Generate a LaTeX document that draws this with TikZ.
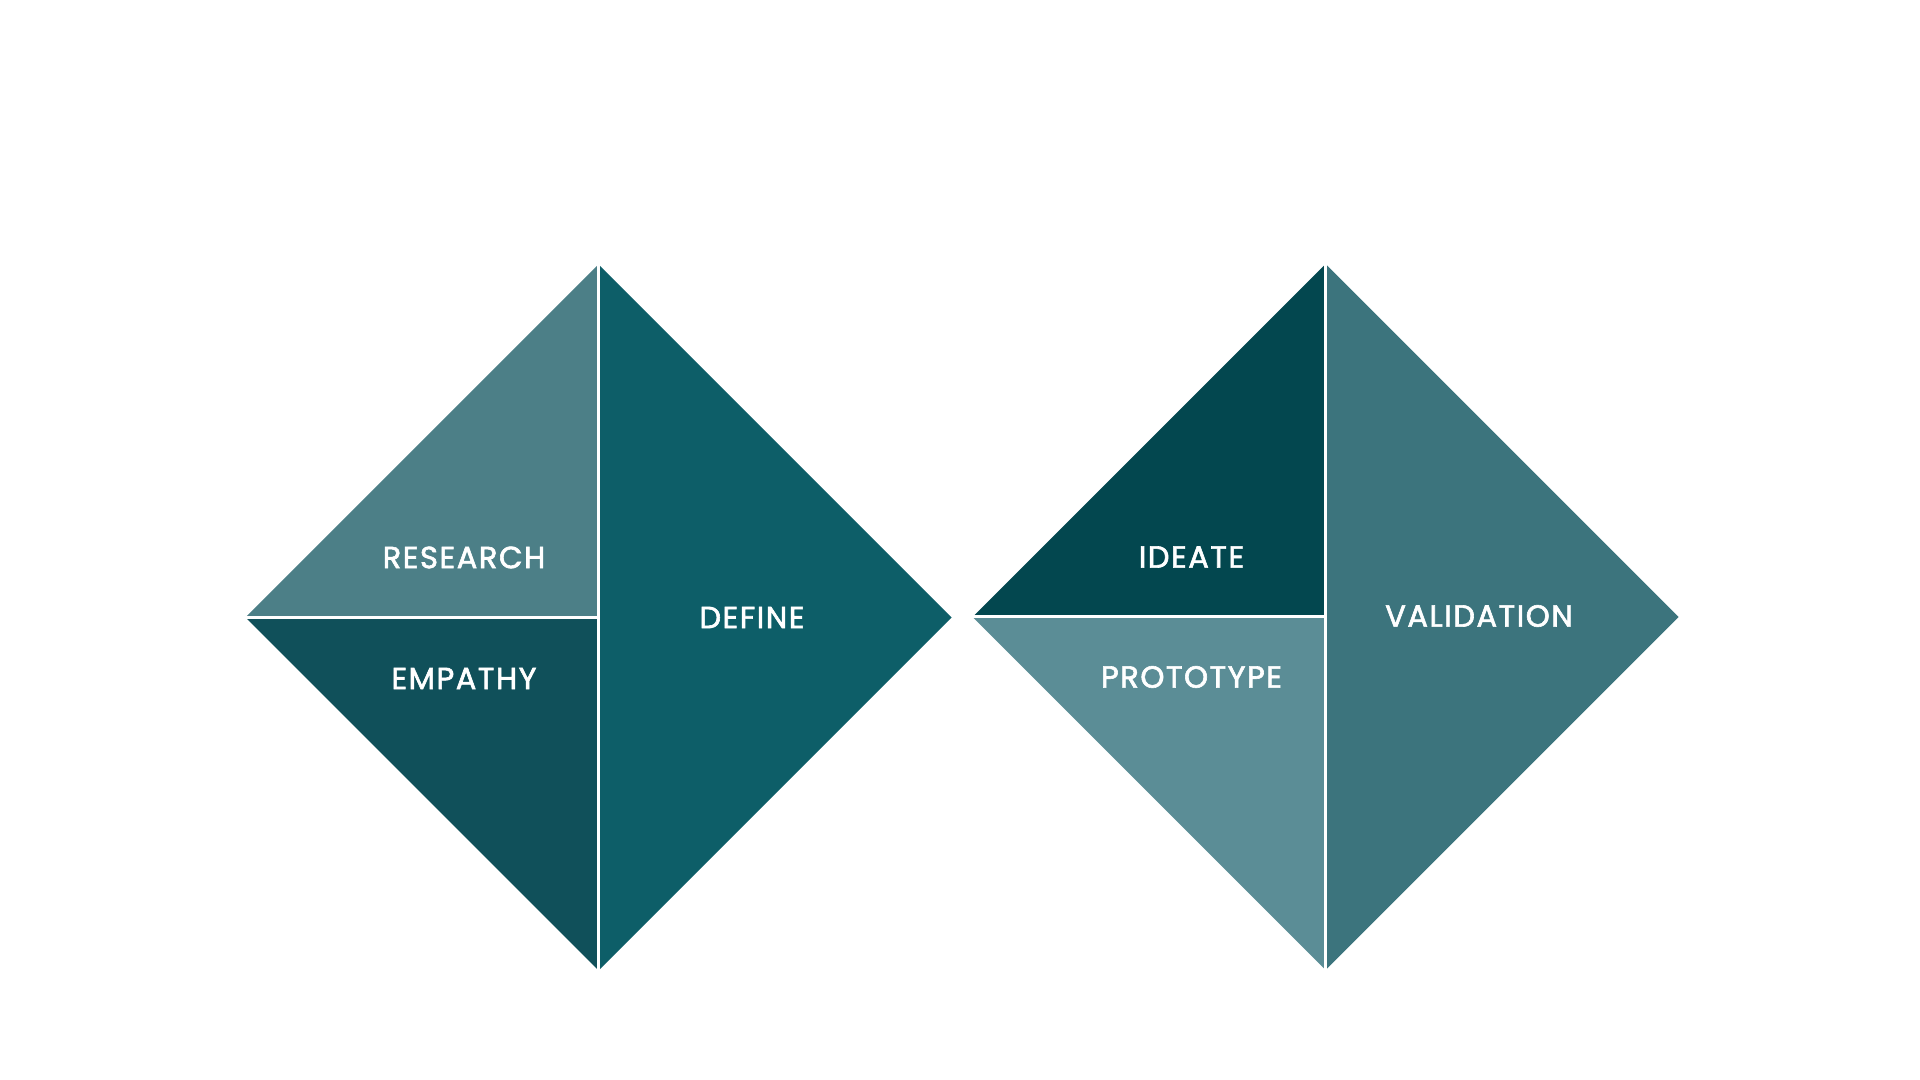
\documentclass[tikz,border=0pt]{standalone}
\usepackage{fontspec}
\setmainfont{Poppins}
\newfontfamily\phasefont{Poppins}[FakeBold=2,LetterSpace=5]
\usepackage{xcolor}
\definecolor{research} {HTML}{4C7F87}
\definecolor{empathy}  {HTML}{10505A}
\definecolor{define}   {HTML}{0D5E68}
\definecolor{ideate}   {HTML}{03474F}
\definecolor{prototype}{HTML}{5B8D96}
\definecolor{validate} {HTML}{3C747D}
\tikzset{
  gap/.style   ={draw=white, line width=0.85pt},
  phase/.style ={text=white, font=\phasefont\fontsize{8.7}{10}\selectfont,
                 inner sep=0pt},
}

\begin{document}
\begin{tikzpicture}[x=1cm,y=1cm]
  \useasboundingbox (0,0) rectangle (19.2,10.8);
  % first diamond
  \begin{scope}[shift={(5.985,4.625)}]
    \fill[research] (-3.53,0) -- (0,3.53) -- (0,0) -- cycle;
    \fill[empathy]  (-3.53,0) -- (0,0) -- (0,-3.53) -- cycle;
    \fill[define]   (0,3.53) -- (3.53,0) -- (0,-3.53) -- cycle;
    \draw[gap] (0,3.6) -- (0,-3.6);
    \draw[gap] (-3.6,0) -- (0,0);
    \node[phase] (research) at (-1.345, 0.60) {RESEARCH};
    \node[phase] (empathy)  at (-1.345,-0.61) {EMPATHY};
    \node[phase] (define)   at ( 1.535, 0.00) {DEFINE};
  \end{scope}
  % second diamond
  \begin{scope}[shift={(13.255,4.63)}]
    \fill[ideate]    (-3.53,0) -- (0,3.53) -- (0,0) -- cycle;
    \fill[prototype] (-3.53,0) -- (0,0) -- (0,-3.53) -- cycle;
    \fill[validate]  (0,3.53) -- (3.53,0) -- (0,-3.53) -- cycle;
    \draw[gap] (0,3.6) -- (0,-3.6);
    \draw[gap] (-3.6,0) -- (0,0);
    \node[phase] (ideate)    at (-1.34, 0.60) {IDEATE};
    \node[phase] (prototype) at (-1.34,-0.60) {PROTOTYPE};
    \node[phase] (validate)  at ( 1.535, 0.01) {VALIDATION};
  \end{scope}
\end{tikzpicture}
\end{document}
